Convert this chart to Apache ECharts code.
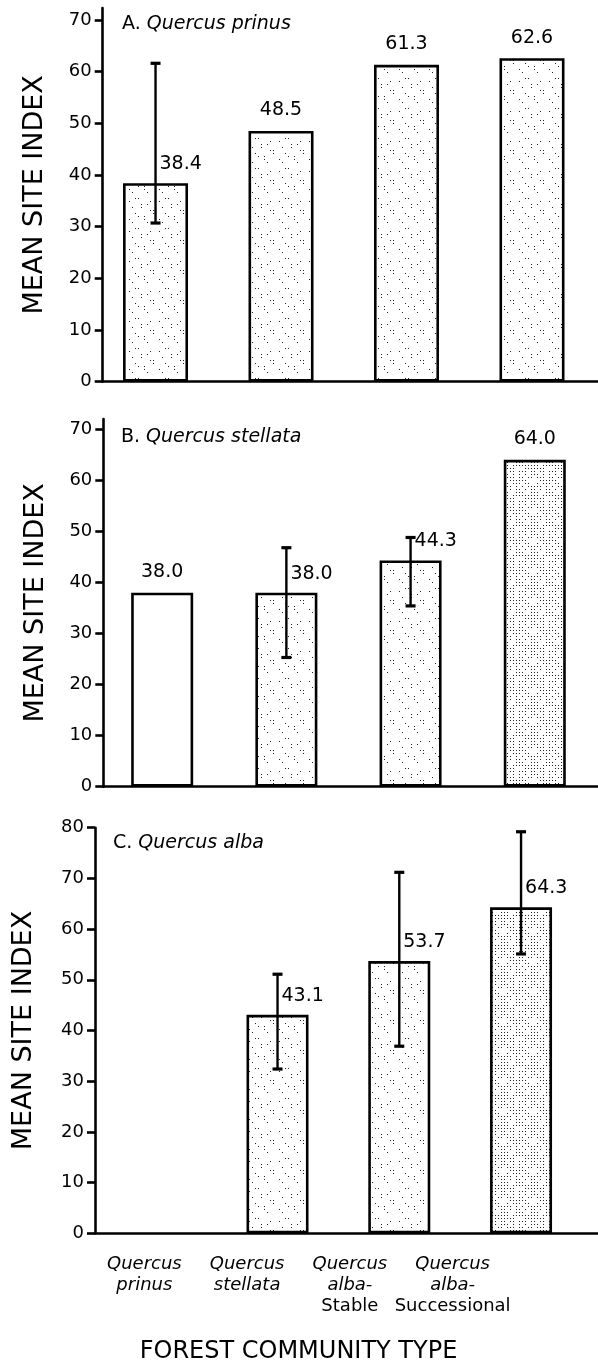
<!DOCTYPE html>
<html>
<head>
<meta charset="utf-8">
<script src="https://cdn.jsdelivr.net/npm/echarts@6/dist/echarts.min.js"></script>
<style>html,body{margin:0;padding:0;background:#fff}#c{width:598px;height:1365px}</style>
</head>
<body>
<div id="c"></div>
<script>
// ---- data ----
const categories = ['Quercus prinus', 'Quercus stellata', 'Quercus alba-Stable', 'Quercus alba-Successional'];
const yTicks70 = [0, 10, 20, 30, 40, 50, 60, 70];
const yTicks80 = [0, 10, 20, 30, 40, 50, 60, 70, 80];

const meansA = [38.4, 48.5, 61.3, 62.6];
const errLowA = [30.7, null, null, null];
const errHighA = [61.6, null, null, null];

const meansB = [38.0, 38.0, 44.3, 64.0];
const errLowB = [null, 25.3, 35.4, null];
const errHighB = [null, 46.8, 48.8, null];

const meansC = [null, 43.1, 53.7, 64.3];
const errLowC = [null, 32.4, 36.9, 55.1];
const errHighC = [null, 51.1, 71.2, 79.2];

const panelTitles = [['A.', 'Quercus prinus'], ['B.', 'Quercus stellata'], ['C.', 'Quercus alba']];
const yName = 'MEAN SITE INDEX';
const xName = 'FOREST COMMUNITY TYPE';

// ---- styles ----
const FONT = 'DejaVu Sans';
function makePattern(density) {
  const s = 30;
  const c = document.createElement('canvas'); c.width = s; c.height = s;
  const ctx = c.getContext('2d');
  ctx.fillStyle = '#fff'; ctx.fillRect(0, 0, s, s);
  ctx.fillStyle = '#222';
  for (let y = 0; y < s; y += 3) for (let x = 0; x < s; x += 3) {
    const h = (x * 37 + y * 91 + x * y * 13) % 100;
    if (h < density) ctx.fillRect(x, y, 1, 1);
  }
  return { image: c, repeat: 'repeat' };
}
const fills = { none: '#fff', light: makePattern(18), dense: makePattern(62) };
const fillA = ['light', 'light', 'light', 'light'];
const fillB = ['none', 'light', 'light', 'dense'];
const fillC = ['light', 'light', 'light', 'dense'];

const panels = [
  { left: 102.7, top: 8, height: 373.7, ymax: 72.3, xmin: -0.421, xmax: 3.526, barW: 65, ticks: yTicks70, nameGap: 54,
    means: meansA, lo: errLowA, hi: errHighA, fill: fillA, titleLeft: 122, titleTop: 15 },
  { left: 103.3, top: 419, height: 367.7, ymax: 72, xmin: -0.474, xmax: 3.509, barW: 62, ticks: yTicks70, nameGap: 54,
    means: meansB, lo: errLowB, hi: errHighB, fill: fillB, titleLeft: 121, titleTop: 428 },
  { left: 95, top: 827.7, height: 405.6, ymax: 80, xmin: -0.499, xmax: 3.632, barW: 62, ticks: yTicks80, nameGap: 58,
    means: meansC, lo: errLowC, hi: errHighC, fill: fillC, titleLeft: 113, titleTop: 834 }
];

const grid = [], xAxis = [], yAxis = [], series = [], title = [];
panels.forEach((p, k) => {
  grid.push({ left: p.left, right: 0, top: p.top, height: p.height });
  xAxis.push({ type: 'value', gridIndex: k, min: p.xmin, max: p.xmax,
    axisLine: { show: true, onZero: false, lineStyle: { color: '#000', width: 2.6 } },
    axisTick: { show: false }, axisLabel: { show: false }, splitLine: { show: false } });
  yAxis.push({ type: 'value', gridIndex: k, min: 0, max: p.ymax,
    name: yName, nameLocation: 'middle', nameRotate: 90, nameGap: p.nameGap,
    nameTextStyle: { fontFamily: FONT, fontSize: 27, color: '#000' },
    axisLine: { show: true, onZero: false, lineStyle: { color: '#000', width: 2.6 } },
    axisTick: { show: true, length: 8, customValues: p.ticks, lineStyle: { color: '#000', width: 2.6 } },
    axisLabel: { customValues: p.ticks, fontFamily: FONT, fontSize: 18, color: '#000', margin: 11 },
    splitLine: { show: false } });
  series.push({
    type: 'bar', xAxisIndex: k, yAxisIndex: k, barWidth: p.barW, z: 2,
    data: p.means.map((v, i) => v == null ? null : {
      value: [i, v],
      itemStyle: { color: fills[p.fill[i]], borderColor: '#000', borderWidth: 2.6 }
    }).filter(d => d)
  });
  series.push({
    type: 'custom', xAxisIndex: k, yAxisIndex: k, z: 5, clip: false,
    data: p.means.map((v, i) => [i, v == null ? '-' : v, p.lo[i] == null ? '-' : p.lo[i], p.hi[i] == null ? '-' : p.hi[i]]),
    renderItem: function (params, api) {
      const i = api.value(0), m = api.value(1), lo = api.value(2), hi = api.value(3);
      if (isNaN(m)) return null;
      const top = api.coord([i, m]);
      const children = [];
      const txt = m.toFixed(1);
      if (!isNaN(lo) && !isNaN(hi)) {
        const a = api.coord([i, hi]), b = api.coord([i, lo]);
        children.push({ type: 'line', shape: { x1: a[0], y1: a[1], x2: b[0], y2: b[1] }, style: { stroke: '#000', lineWidth: 2.4 } });
        children.push({ type: 'line', shape: { x1: a[0] - 5, y1: a[1], x2: a[0] + 5, y2: a[1] }, style: { stroke: '#000', lineWidth: 3.2 } });
        children.push({ type: 'line', shape: { x1: b[0] - 5, y1: b[1], x2: b[0] + 5, y2: b[1] }, style: { stroke: '#000', lineWidth: 3.2 } });
        children.push({ type: 'text', style: { text: txt, x: a[0] + 4, y: top[1] - 19, align: 'left', verticalAlign: 'middle',
          font: '19px "DejaVu Sans"', fill: '#000' } });
      } else {
        children.push({ type: 'text', style: { text: txt, x: top[0], y: top[1] - 11, align: 'center', verticalAlign: 'bottom',
          font: '19px "DejaVu Sans"', fill: '#000' } });
      }
      return { type: 'group', children: children };
    }
  });
  title.push({
    text: '{n|' + panelTitles[k][0] + '} {i|' + panelTitles[k][1] + '}',
    left: p.titleLeft, top: p.titleTop, padding: 0,
    textStyle: { fontWeight: 'normal', fontFamily: FONT, fontSize: 19, rich: {
      n: { fontFamily: FONT, fontSize: 19, fontWeight: 'normal', color: '#000' },
      i: { fontFamily: FONT, fontSize: 19, fontWeight: 'normal', fontStyle: 'italic', color: '#000' }
    } }
  });
});

// category label row under panel C
grid.push({ left: 93, width: 411, top: 1233, height: 1 });
xAxis.push({ type: 'category', gridIndex: 3, data: categories,
  axisLine: { show: false }, axisTick: { show: false },
  name: xName, nameLocation: 'middle', nameGap: 106,
  nameTextStyle: { fontFamily: FONT, fontSize: 24, color: '#000' },
  axisLabel: { margin: 20, interval: 0, lineHeight: 21,
    formatter: function (v) {
      const sp = v.indexOf(' ');
      const genus = v.slice(0, sp), rest = v.slice(sp + 1);
      const dash = rest.indexOf('-');
      if (dash < 0) return '{i|' + genus + '}\n{i|' + rest + '}';
      return '{i|' + genus + '}\n{i|' + rest.slice(0, dash + 1) + '}\n{r|' + rest.slice(dash + 1) + '}';
    },
    rich: {
      i: { fontFamily: FONT, fontSize: 18, fontStyle: 'italic', color: '#000', lineHeight: 21 },
      r: { fontFamily: FONT, fontSize: 18, color: '#000', lineHeight: 21 }
    } } });
yAxis.push({ type: 'value', gridIndex: 3, show: false });

const chart = echarts.init(document.getElementById('c'), null, { renderer: 'canvas' });
chart.setOption({ animation: false, backgroundColor: '#fff', title, grid, xAxis, yAxis, series });
</script>
</body>
</html>
